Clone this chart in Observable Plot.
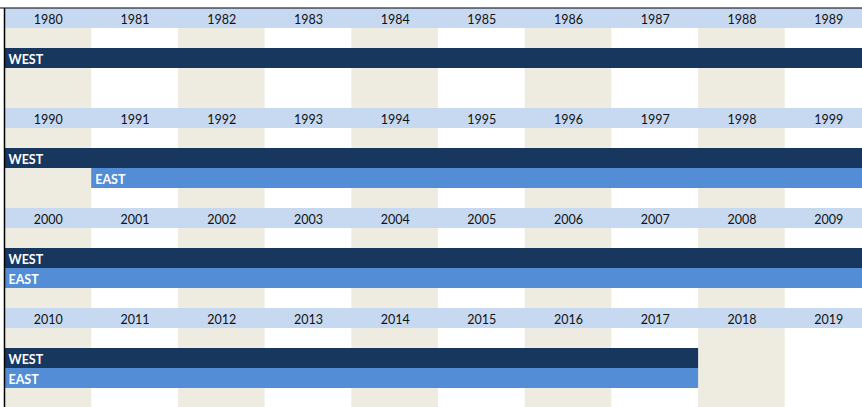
<!DOCTYPE html>
<html>
<head>
<meta charset="utf-8">
<script src="https://cdn.jsdelivr.net/npm/d3@7"></script>
<script src="https://cdn.jsdelivr.net/npm/@observablehq/plot@0.6"></script>
<style>
  html, body { margin: 0; padding: 0; background: #fff; overflow: hidden; }
  #chart svg { display: block; }
</style>
</head>
<body>
<div id="chart"></div>
<script>
// Data
const decades = [1980, 1990, 2000, 2010];
const seriesNames = ["WEST", "EAST"];
const seriesStart = [1980, 1991];
const seriesEnd = [2017, 2017];
const seriesColors = ["#17375E", "#538DD5"];

const rowsPerBlock = 5; // header, blank, WEST, EAST, blank

// Derived tables
const headers = decades.map((d, b) => ({ b, y1: b * rowsPerBlock, y2: b * rowsPerBlock + 1 }));
const yearLabels = decades.flatMap((d, b) => d3.range(10).map(i => ({ year: d + i, x: i + 0.5, y: b * rowsPerBlock + 0.5 })));
const stripes = decades.flatMap((d, b) => d3.range(0, 10, 2).map(i => ({ x1: i, x2: i + 1, y1: b * rowsPerBlock + 1, y2: (b + 1) * rowsPerBlock })));
const segments = [];
seriesNames.forEach((name, s) => {
  decades.forEach((d, b) => {
    const a = Math.max(seriesStart[s], d);
    const e = Math.min(seriesEnd[s], d + 9);
    if (a <= e) {
      segments.push({ name, color: seriesColors[s], x1: a - d, x2: e - d + 1, y1: b * rowsPerBlock + 2 + s, y2: b * rowsPerBlock + 3 + s });
    }
  });
});

const colW = 86.7;
const chart = Plot.plot({
  width: 862,
  height: 407,
  margin: 0,
  x: { domain: [0, 10], range: [4.5, 4.5 + colW * 10], axis: null },
  y: { domain: [0, 20], range: [8, 408], axis: null },
  style: { fontFamily: "Lato, 'Open Sans', sans-serif", background: "#fff" },
  marks: [
    Plot.rect(stripes, { x1: "x1", x2: "x2", y1: "y1", y2: "y2", fill: "#EEEBE0" }),
    Plot.rect(headers, { x1: 0, x2: 10, y1: "y1", y2: "y2", fill: "#C6D9F1" }),
    Plot.text(yearLabels, { x: "x", y: "y", text: d => String(d.year), fill: "#111", fontSize: 12.5, dy: 1.5 }),
    Plot.rect(segments, { x1: "x1", x2: "x2", y1: "y1", y2: "y2", fill: "color" }),
    Plot.text(segments, { x: "x1", y: d => (d.y1 + d.y2) / 2, text: "name", fill: "#fff", fontWeight: "bold", fontSize: 12.5, textAnchor: "start", dx: 3.5, dy: 1.5 }),
    Plot.ruleY([0], { stroke: "#000", strokeWidth: 1.2, dy: -0.5 }),
    Plot.ruleX([0], { stroke: "#000", strokeWidth: 1.5, y1: 0, y2: 20, dx: -0.5 })
  ]
});
document.getElementById("chart").appendChild(chart);
</script>
</body>
</html>
